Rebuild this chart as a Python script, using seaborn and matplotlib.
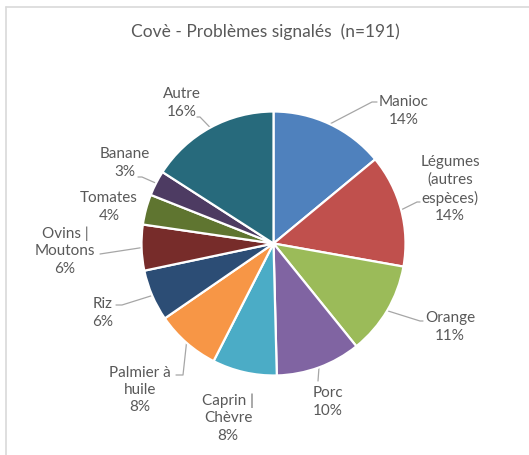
import numpy as np
import matplotlib.pyplot as plt
import seaborn as sns

# données (parts en %)
categories = ["Manioc", "Légumes\n(autres\nespèces)", "Orange", "Porc", "Caprin |\nChèvre",
              "Palmier à\nhuile", "Riz", "Ovins |\nMoutons", "Tomates", "Banane", "Autre"]
shares = [14.0, 13.8, 11.4, 10.4, 7.9, 7.9, 6.3, 5.6, 3.7, 3.1, 15.9]
title = "Covè - Problèmes signalés  (n=191)"

colors = ["#4F81BD", "#C0504D", "#9BBB59", "#8064A2", "#4BACC6", "#F79646",
          "#2C4D75", "#772C2A", "#5F7530", "#4D3B62", "#276A7C"]

# mise en page en pixels (centre du camembert, rayon)
CX, CY, R = 273.5, 244.5, 132.0
W, H = 529, 456

# centre des étiquettes (px) et coude / fin des traits de rappel (px)
label_pos = [(404, 111), (450, 189), (450, 327), (328, 402), (228, 418),
             (140, 390), (103, 313), (65, 251), (109, 207), (125, 163), (182, 103)]
leaders = [[(372, 103), (377, 103)], [(417, 203), (420, 203)], [(420, 322), (423, 322)],
           [(318, 382)], None, [(183, 376), (176, 376)], [(122, 306), (116, 306)],
           [(100, 255)], None, [(142, 178), (138, 178)], [(200, 118), (197, 118)]]


def px(x, y):
    return (x - CX) / R, (CY - y) / R


sns.set_theme(style="white")
plt.rcParams['font.family'] = ['Lato', 'DejaVu Sans']
text_color = "#595959"

fig = plt.figure(figsize=(W / 100, H / 100), dpi=100)
ax = fig.add_axes([0, 0, 1, 1])

wedges, _ = ax.pie(shares, colors=colors, startangle=90, counterclock=False,
                   radius=1.0, wedgeprops=dict(edgecolor="white", linewidth=1.6))

ax.set_xlim(-CX / R, (W - CX) / R)
ax.set_ylim(-(H - CY) / R, CY / R)
ax.set_aspect("equal")
ax.axis("off")

for w, name, share, pos, lead in zip(wedges, categories, shares, label_pos, leaders):
    mid = np.deg2rad((w.theta1 + w.theta2) / 2)
    lx, ly = px(*pos)
    ax.text(lx, ly, f"{name}\n{share:.0f}%", ha="center", va="center",
            fontsize=11, color=text_color, linespacing=1.3)
    if lead is not None:
        pts = [(np.cos(mid), np.sin(mid))] + [px(*p) for p in lead]
        xs, ys = zip(*pts)
        ax.plot(xs, ys, color="#A6A6A6", linewidth=0.9, zorder=0)

fig.text(265 / W, 1 - 32 / H, title, ha="center", va="center",
         fontsize=12.5, color=text_color)

# bordure de la zone du graphique
fig.add_artist(plt.Line2D([5.5 / W, 5.5 / W], [0, 1 - 7.5 / H], color="#D9D9D9", linewidth=1.2))
fig.add_artist(plt.Line2D([5.5 / W, 1], [1 - 7.5 / H, 1 - 7.5 / H], color="#D9D9D9", linewidth=1.2))

fig.savefig("out.png", dpi=100, facecolor="white")
